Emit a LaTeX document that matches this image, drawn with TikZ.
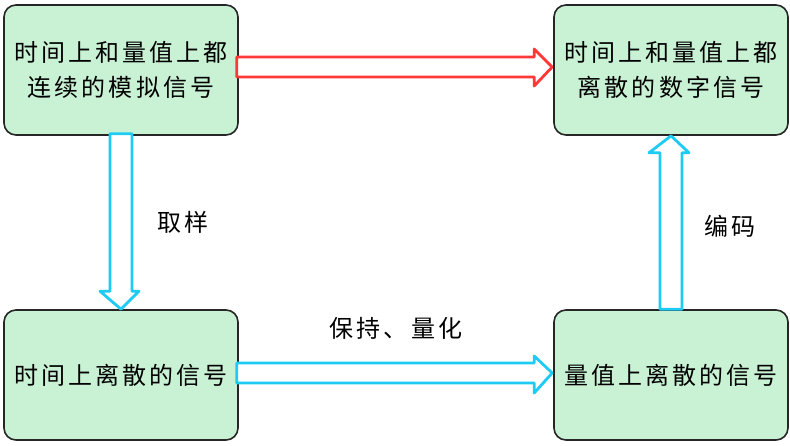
\documentclass[tikz,border=0pt]{standalone}
\usepackage{fontspec}
\newfontfamily\cjk[LetterSpace=13]{Noto Sans CJK SC}
\usetikzlibrary{calc}
\definecolor{boxfill}{HTML}{C9F2D5}
\definecolor{redarrow}{HTML}{FF3838}
\definecolor{cyanarrow}{HTML}{1ECBF2}
\tikzset{
  box/.style={draw=black!85, line width=1.6pt, fill=boxfill, rounded corners=12pt,
    minimum width=234pt, minimum height=130pt, align=center,
    font=\cjk\fontsize{24}{35}\selectfont, inner sep=0pt},
  lbl/.style={font=\cjk\fontsize{24}{28}\selectfont, inner sep=0pt},
  fatarrow/.style={line width=2.8pt, line join=round, line cap=round, fill=white}
}
\begin{document}
\begin{tikzpicture}[x=1pt,y=1pt]
\useasboundingbox (0,0) rectangle (790,445);
\node[box] (tl) at (121,375) {时间上和量值上都\\连续的模拟信号};
\node[box] (tr) at (671,375) {时间上和量值上都\\离散的数字信号};
\node[box] (bl) at (121,70) {时间上离散的信号};
\node[box] (br) at (671,70) {量值上离散的信号};
% red arrow tl -> tr
\draw[fatarrow, draw=redarrow]
  ($(tl.east)+(-2,13)$) -- ($(tr.west)+(-19,13)$) -- ($(tr.west)+(-19,21)$)
  -- ($(tr.west)+(-1,3)$) -- ($(tr.west)+(-19,-16)$) -- ($(tr.west)+(-19,-7)$)
  -- ($(tl.east)+(-2,-7)$) -- cycle;
% down arrow tl -> bl
\draw[fatarrow, draw=cyanarrow]
  ($(tl.south)+(-11,2)$) -- ($(bl.north)+(-11,18)$) -- ($(bl.north)+(-21,18)$)
  -- ($(bl.north)+(0,0)$) -- ($(bl.north)+(18,18)$) -- ($(bl.north)+(11,18)$)
  -- ($(tl.south)+(11,2)$) -- cycle;
% up arrow br -> tr
\draw[fatarrow, draw=cyanarrow]
  ($(br.north)+(-11,0)$) -- ($(tr.south)+(-11,-17)$) -- ($(tr.south)+(-22,-17)$)
  -- ($(tr.south)+(0,0)$) -- ($(tr.south)+(18,-17)$) -- ($(tr.south)+(11,-17)$)
  -- ($(br.north)+(11,0)$) -- cycle;
% bottom arrow bl -> br
\draw[fatarrow, draw=cyanarrow]
  ($(bl.east)+(-2,12)$) -- ($(br.west)+(-19,12)$) -- ($(br.west)+(-19,19)$)
  -- ($(br.west)+(-1,2)$) -- ($(br.west)+(-19,-18)$) -- ($(br.west)+(-19,-8)$)
  -- ($(bl.east)+(-2,-8)$) -- cycle;
\node[lbl] (l1) at (183,223) {取样};
\node[lbl] (l2) at (730,219) {编码};
\node[lbl] (l3) at (396,117) {保持、量化};
\end{tikzpicture}
\end{document}
